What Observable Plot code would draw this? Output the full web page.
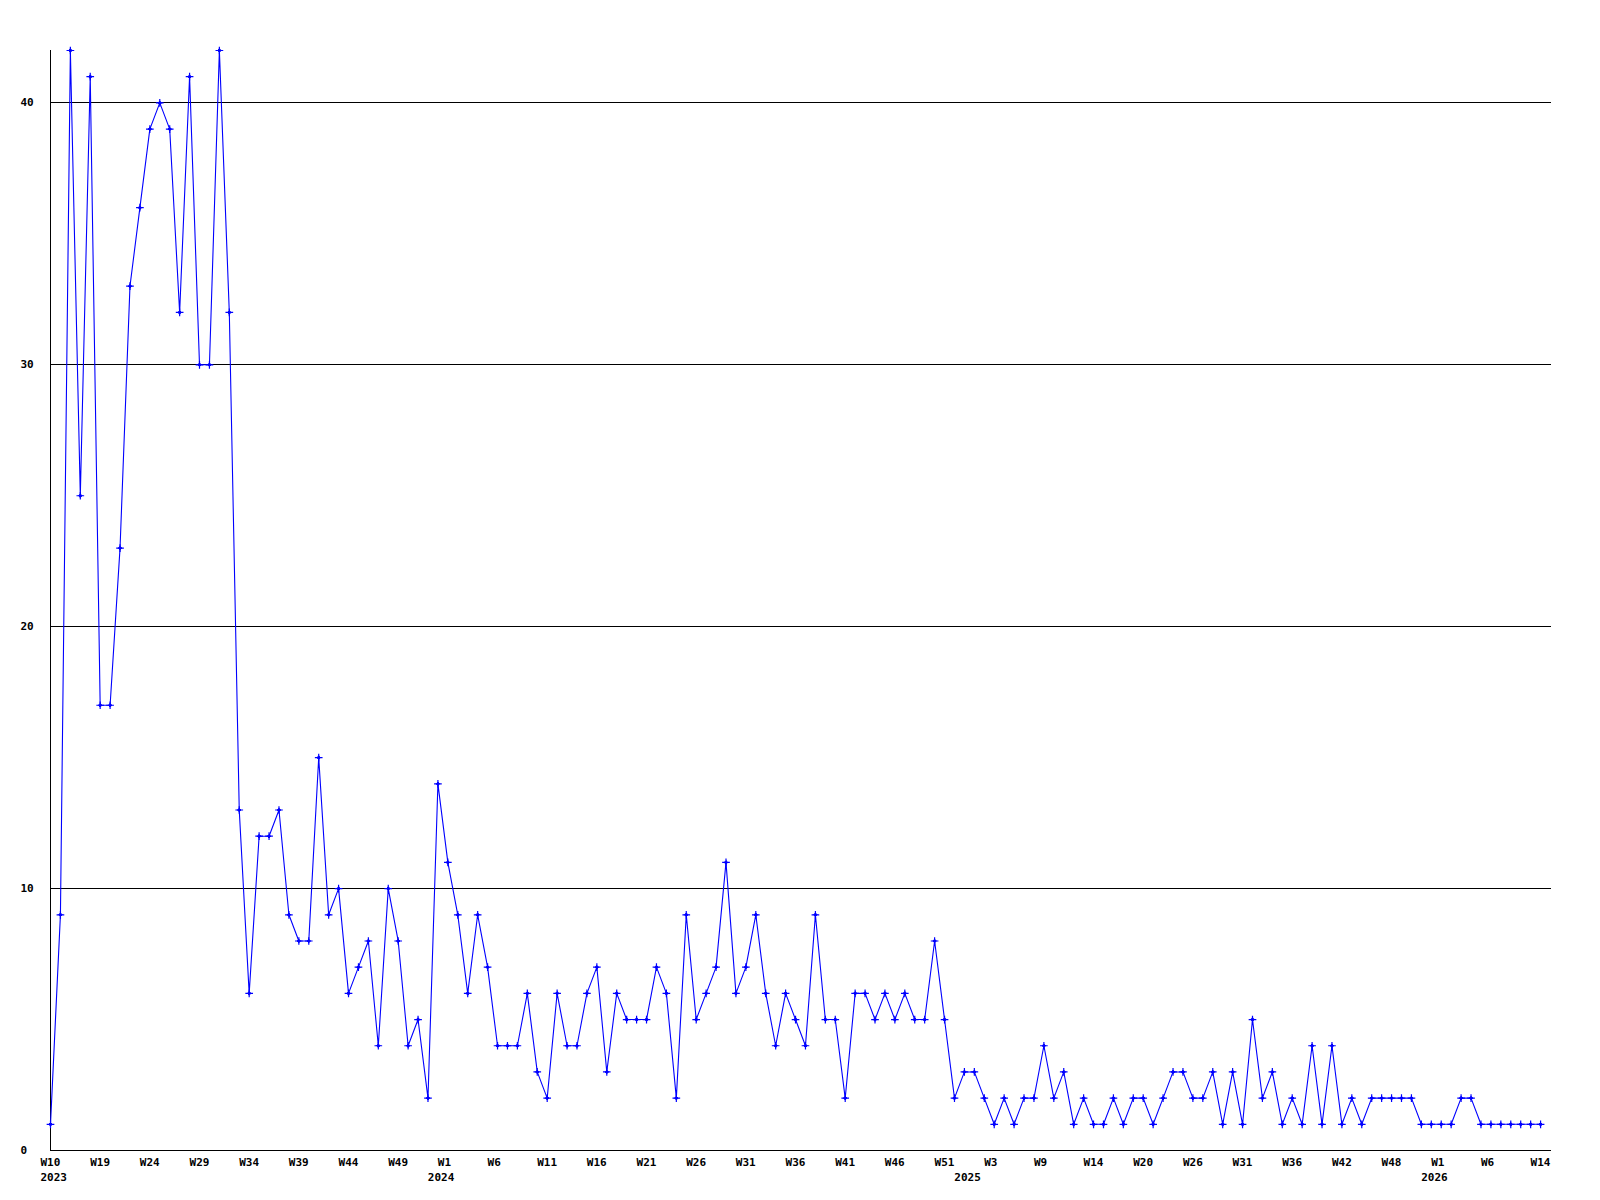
<!DOCTYPE html>
<html>
<head>
<meta charset="utf-8">
<script src="https://cdn.jsdelivr.net/npm/d3@7"></script>
<script src="https://cdn.jsdelivr.net/npm/@observablehq/plot@0.6"></script>
<style>
  html, body { margin: 0; padding: 0; background: #ffffff; }
  #chart svg { display: block; }
</style>
</head>
<body>
<div id="chart"></div>
<script>
// Weekly counts (one value per point, in order)
const values = [
  1, 9, 42, 25, 41, 17, 17, 23, 33, 36,
  39, 40, 39, 32, 41, 30, 30, 42, 32, 13,
  6, 12, 12, 13, 9, 8, 8, 15, 9, 10,
  6, 7, 8, 4, 10, 8, 4, 5, 2, 14,
  11, 9, 6, 9, 7, 4, 4, 4, 6, 3,
  2, 6, 4, 4, 6, 7, 3, 6, 5, 5,
  5, 7, 6, 2, 9, 5, 6, 7, 11, 6,
  7, 9, 6, 4, 6, 5, 4, 9, 5, 5,
  2, 6, 6, 5, 6, 5, 6, 5, 5, 8,
  5, 2, 3, 3, 2, 1, 2, 1, 2, 2,
  4, 2, 3, 1, 2, 1, 1, 2, 1, 2,
  2, 1, 2, 3, 3, 2, 2, 3, 1, 3,
  1, 5, 2, 3, 1, 2, 1, 4, 1, 4,
  1, 2, 1, 2, 2, 2, 2, 2, 1, 1,
  1, 1, 2, 2, 1, 1, 1, 1, 1, 1, 1
];

// Week tick labels, one every 5 points
const weekLabels = [
  "W10", "W19", "W24", "W29", "W34", "W39", "W44", "W49",
  "W1", "W6", "W11", "W16", "W21", "W26", "W31", "W36", "W41", "W46", "W51",
  "W3", "W9", "W14", "W20", "W26", "W31", "W36", "W42", "W48",
  "W1", "W6", "W14"
];
const tickStep = 5;

// Year labels and the point where each year starts
const yearLabels = ["2023", "2024", "2025", "2026"];
const yearStart = [0, 40, 93, 140];

const yTicks = [0, 10, 20, 30, 40];

const points = values.map((v, i) => ({i, v}));
const weekTicks = weekLabels.map((label, k) => ({i: k * tickStep, label}));
const years = yearLabels.map((label, k) => ({i: yearStart[k], label}));

const font = "'DejaVu Sans Mono', 'Liberation Mono', monospace";

const chart = Plot.plot({
  width: 1600,
  height: 1200,
  marginLeft: 50,
  marginRight: 49,
  marginTop: 50,
  marginBottom: 50,
  style: {fontFamily: font, fontSize: "11px", fontWeight: "bold", background: "#ffffff", color: "#000"},
  x: {domain: [0, 151.1], axis: null},
  y: {domain: [0, 42], axis: null},
  marks: [
    Plot.ruleY(yTicks.filter(d => d > 0), {stroke: "#000", strokeWidth: 1, shapeRendering: "crispEdges"}),
    Plot.ruleY([0], {stroke: "#000", strokeWidth: 1.5, shapeRendering: "crispEdges"}),
    Plot.ruleX([0], {stroke: "#000", strokeWidth: 1.5, shapeRendering: "crispEdges"}),
    Plot.axisY({ticks: yTicks, label: null, tickSize: 0, tickPadding: 30, textAnchor: "start", fontWeight: "bold", fontSize: 11, fill: "#000"}),
    Plot.line(points, {x: "i", y: "v", stroke: "#0000ff", strokeWidth: 1.1}),
    Plot.dot(points, {x: "i", y: "v", symbol: "diamond2", r: 1.6, fill: "#0000ff", stroke: "#0000ff", strokeWidth: 1}),
    Plot.dot(points, {x: "i", y: "v", symbol: "plus", r: 2.6, stroke: "#0000ff", strokeWidth: 1.2}),
    Plot.text(weekTicks, {x: "i", frameAnchor: "bottom", text: "label", textAnchor: "start", dx: -10, dy: 12, lineAnchor: "middle", fill: "#000", fontWeight: "bold", fontSize: 11}),
    Plot.text(years.slice(0, 1), {x: "i", frameAnchor: "bottom", text: "label", textAnchor: "start", dx: -10, dy: 27, lineAnchor: "middle", fill: "#000", fontWeight: "bold", fontSize: 11}),
    Plot.text(years.slice(1), {x: "i", frameAnchor: "bottom", text: "label", textAnchor: "start", dx: -20, dy: 27, lineAnchor: "middle", fill: "#000", fontWeight: "bold", fontSize: 11})
  ]
});

document.getElementById("chart").appendChild(chart);
</script>
</body>
</html>
